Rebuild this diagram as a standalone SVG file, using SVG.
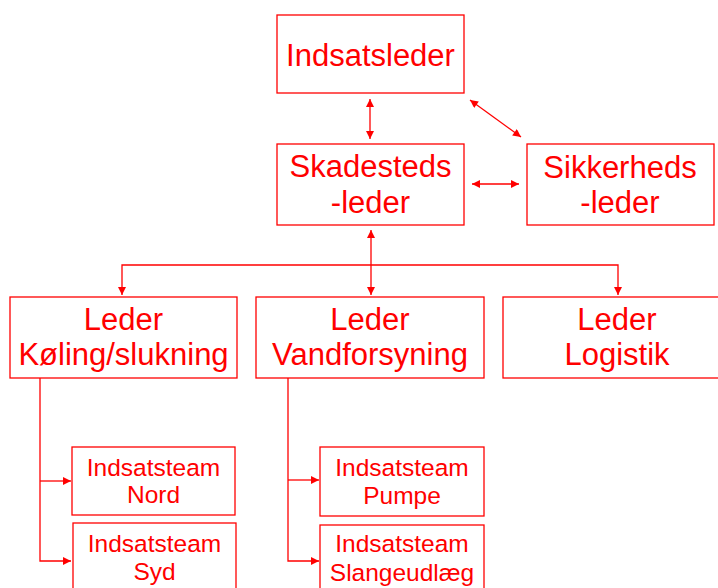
<svg xmlns="http://www.w3.org/2000/svg" width="718" height="588" viewBox="0 0 718 588">
<style>
.box{fill:#fff;stroke:#ff0000;stroke-width:1.3}
.t{font-family:"Liberation Sans",Arial,sans-serif;fill:#ff0000;text-anchor:middle}
.big{font-size:31px}
.small{font-size:24.5px}
.ln{fill:none;stroke:#ff0000;stroke-width:1.3}
</style>
<defs>
<marker id="ah" viewBox="0 0 10 10" refX="10" refY="5" markerWidth="9" markerHeight="8" markerUnits="userSpaceOnUse" orient="auto-start-reverse">
<path d="M0,0 L10,5 L0,10 z" fill="#ff0000"/>
</marker>
</defs>
<rect width="718" height="588" fill="#fff"/>
<g id="connectors">
<line class="ln" x1="370" y1="99" x2="370" y2="139" marker-start="url(#ah)" marker-end="url(#ah)"/>
<line class="ln" x1="470" y1="100" x2="521" y2="137" marker-start="url(#ah)" marker-end="url(#ah)"/>
<line class="ln" x1="472" y1="184" x2="519" y2="184" marker-start="url(#ah)" marker-end="url(#ah)"/>
<line class="ln" x1="371" y1="230" x2="371" y2="265" marker-start="url(#ah)"/>
<polyline class="ln" points="122,295 122,265 618,265 618,295" marker-start="url(#ah)" marker-end="url(#ah)"/>
<line class="ln" x1="371" y1="265" x2="371" y2="295" marker-end="url(#ah)"/>
<polyline class="ln" points="40,378 40,561 71,561" marker-end="url(#ah)"/>
<line class="ln" x1="40" y1="481" x2="71" y2="481" marker-end="url(#ah)"/>
<polyline class="ln" points="288,378 288,561 319,561" marker-end="url(#ah)"/>
<line class="ln" x1="288" y1="480" x2="319" y2="480" marker-end="url(#ah)"/>
</g>
<g id="indsatsleder">
<rect class="box" x="277" y="15" width="187" height="78"/>
<text class="t big" x="370.5" y="66">Indsatsleder</text>
</g>
<g id="skadestedsleder">
<rect class="box" x="277" y="144" width="187" height="81"/>
<text class="t big" x="370.5" y="177">Skadesteds</text>
<text class="t big" x="370.5" y="213">-leder</text>
</g>
<g id="sikkerhedsleder">
<rect class="box" x="527" y="144" width="187" height="81"/>
<text class="t big" x="620" y="178">Sikkerheds</text>
<text class="t big" x="620" y="213">-leder</text>
</g>
<g id="leder-koeling">
<rect class="box" x="10" y="297" width="227" height="81"/>
<text class="t big" x="123.5" y="330">Leder</text>
<text class="t big" x="123.5" y="365">Køling/slukning</text>
</g>
<g id="leder-vandforsyning">
<rect class="box" x="256" y="297" width="228" height="81"/>
<text class="t big" x="370" y="330">Leder</text>
<text class="t big" x="370" y="365">Vandforsyning</text>
</g>
<g id="leder-logistik">
<rect class="box" x="503" y="297" width="225" height="81"/>
<text class="t big" x="617" y="330">Leder</text>
<text class="t big" x="617" y="365">Logistik</text>
</g>
<g id="team-nord">
<rect class="box" x="72" y="447" width="163" height="68"/>
<text class="t small" x="153.5" y="476">Indsatsteam</text>
<text class="t small" x="153.5" y="503">Nord</text>
</g>
<g id="team-syd">
<rect class="box" x="73" y="523" width="163" height="75"/>
<text class="t small" x="154.5" y="552">Indsatsteam</text>
<text class="t small" x="154.5" y="580">Syd</text>
</g>
<g id="team-pumpe">
<rect class="box" x="320" y="447" width="164" height="69"/>
<text class="t small" x="402" y="476">Indsatsteam</text>
<text class="t small" x="402" y="504">Pumpe</text>
</g>
<g id="team-slangeudlaeg">
<rect class="box" x="320" y="525" width="164" height="73"/>
<text class="t small" x="402" y="552">Indsatsteam</text>
<text class="t small" x="402" y="581">Slangeudlæg</text>
</g>
</svg>
